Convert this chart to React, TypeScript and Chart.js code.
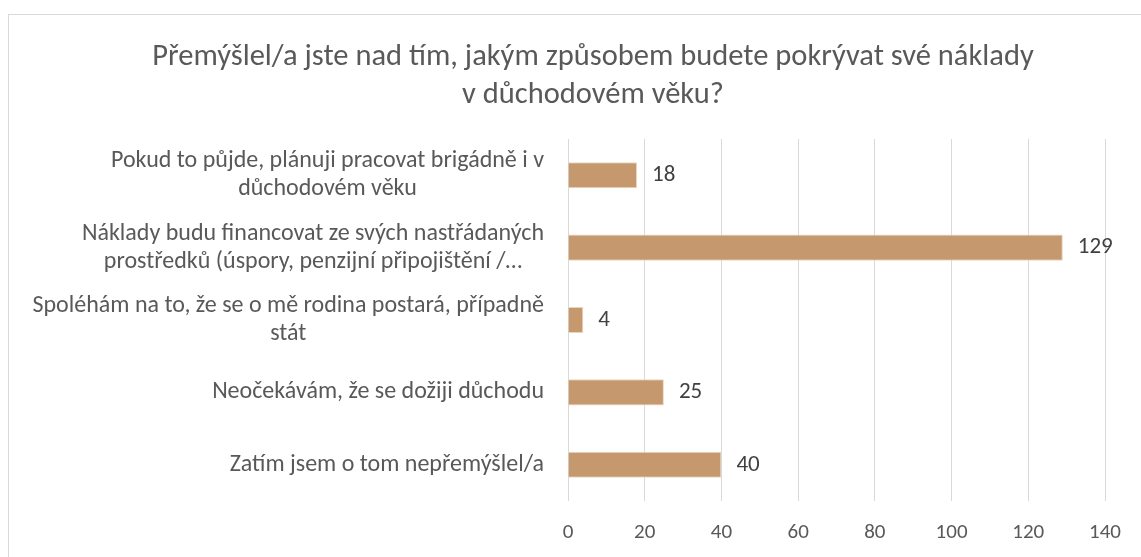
import React, { useEffect, useRef } from "react";
import { Chart, registerables } from "chart.js";

Chart.register(...registerables);

const titleLines = [
  "Přemýšlel/a jste nad tím, jakým způsobem budete pokrývat své náklady",
  "v důchodovém věku?",
];

const categoryLines: string[][] = [
  ["Pokud to půjde, plánuji pracovat brigádně i v", "důchodovém věku"],
  ["Náklady budu financovat ze svých nastřádaných", "prostředků (úspory, penzijní připojištění /…"],
  ["Spoléhám na to, že se o mě rodina postará, případně", "stát"],
  ["Neočekávám, že se dožiji důchodu"],
  ["Zatím jsem o tom nepřemýšlel/a"],
];

const values = [18, 129, 4, 25, 40];

const xMin = 0;
const xMax = 140;
const xStep = 20;

const FONT = "Carlito, Lato, sans-serif";
const LABEL_SIZE = 24;
const LABEL_LINE = 28;

const yLabelPlugin = {
  id: "yLabelsCentered",
  afterDraw(chart: any) {
    const ctx = chart.ctx;
    const y = chart.scales.y;
    ctx.save();
    ctx.font = `${LABEL_SIZE}px ${FONT}`;
    ctx.fillStyle = "#595959";
    ctx.textBaseline = "middle";
    ctx.textAlign = "center";
    categoryLines.forEach((lines, i) => {
      const cy = y.getPixelForTick(i);
      const w = Math.max(...lines.map((l) => ctx.measureText(l).width));
      const right = chart.chartArea.left - 24;
      const cx = right - w / 2;
      lines.forEach((l, j) => {
        ctx.fillText(l, cx, cy + (j - (lines.length - 1) / 2) * LABEL_LINE);
      });
    });
    ctx.restore();
  },
};

const dataLabelPlugin = {
  id: "barValueLabels",
  afterDatasetsDraw(chart: any) {
    const ctx = chart.ctx;
    const meta = chart.getDatasetMeta(0);
    ctx.save();
    ctx.font = `23px ${FONT}`;
    ctx.fillStyle = "#404040";
    ctx.textBaseline = "middle";
    ctx.textAlign = "left";
    meta.data.forEach((el: any, i: number) => {
      ctx.fillText(String(values[i]), el.x + 15, el.y);
    });
    ctx.restore();
  },
};

export default function App() {
  const ref = useRef<HTMLCanvasElement | null>(null);

  useEffect(() => {
    if (!ref.current) return;
    const chart = new Chart(ref.current, {
      type: "bar",
      data: {
        labels: categoryLines.map((l) => l.join(" ")),
        datasets: [
          {
            data: values,
            backgroundColor: "#C5986D",
            borderColor: "#E9D6C2",
            borderWidth: 1,
            barPercentage: 0.36,
            categoryPercentage: 1,
          },
        ],
      },
      options: {
        indexAxis: "y",
        animation: false,
        responsive: false,
        devicePixelRatio: 1,
        layout: { padding: 0 },
        plugins: {
          legend: { display: false },
          tooltip: { enabled: false },
          title: {
            display: true,
            text: titleLines,
            color: "#595959",
            font: { family: FONT, size: 30.5, weight: "normal", lineHeight: 38 / 30.5 },
            padding: { top: 23, bottom: 25 },
          },
        },
        scales: {
          x: {
            min: xMin,
            max: xMax,
            ticks: {
              stepSize: xStep,
              color: "#595959",
              font: { family: FONT, size: 21 },
              padding: 19,
            },
            grid: { color: "#D9D9D9", lineWidth: 1, drawTicks: false },
            border: { display: false },
            afterFit: (scale: any) => {
              scale.height = 56;
              scale.paddingRight = 72;
            },
          },
          y: {
            ticks: { display: false },
            grid: { display: false, drawTicks: false },
            border: { display: false },
            afterFit: (scale: any) => {
              scale.width = 559;
            },
          },
        },
      },
      plugins: [yLabelPlugin, dataLabelPlugin],
    });
    return () => chart.destroy();
  }, []);

  return (
    <div style={{ position: "fixed", inset: 0, overflow: "hidden", background: "#fff" }}>
      <div
        style={{
          position: "absolute",
          left: 8,
          top: 14,
          width: 1170,
          height: 600,
          border: "1px solid #D9D9D9",
          boxSizing: "border-box",
        }}
      >
        <canvas
          ref={ref}
          width={1168}
          height={542}
          style={{ position: "absolute", left: 0, top: 0, width: 1168, height: 542 }}
        />
      </div>
    </div>
  );
}
